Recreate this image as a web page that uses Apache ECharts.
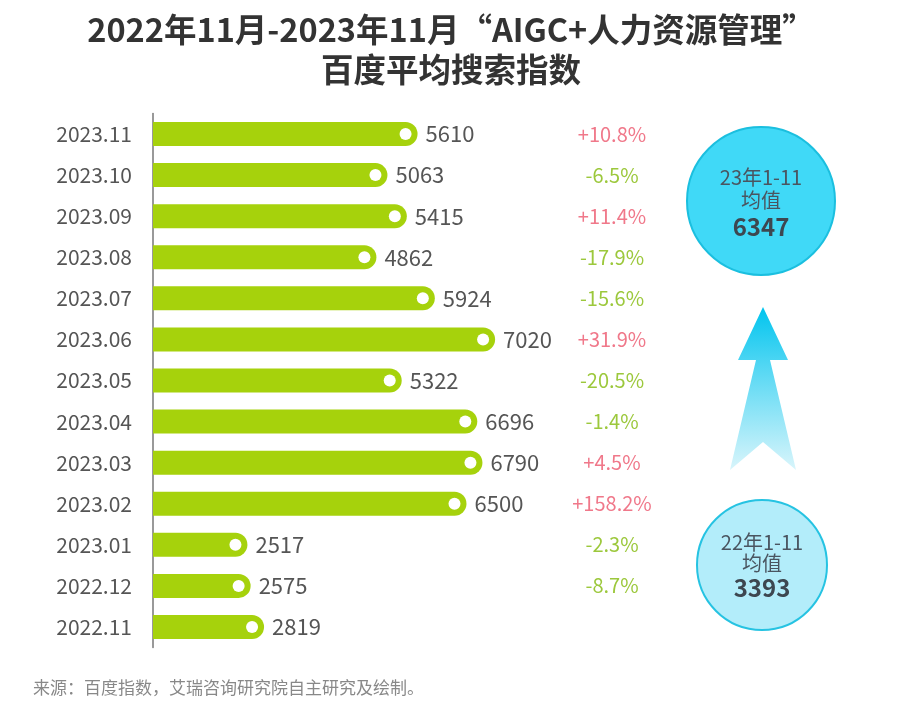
<!DOCTYPE html>
<html>
<head>
<meta charset="utf-8">
<script src="https://cdn.jsdelivr.net/npm/echarts@6/dist/echarts.min.js"></script>
<style>
html,body{margin:0;padding:0;background:#fff;}
#chart{width:902px;height:720px;}
</style>
</head>
<body>
<div id="chart"></div>
<script>
const categories = ['2023.11','2023.10','2023.09','2023.08','2023.07','2023.06','2023.05','2023.04','2023.03','2023.02','2023.01','2022.12','2022.11'];
const values = [5610,5063,5415,4862,5924,7020,5322,6696,6790,6500,2517,2575,2819];
const growth = ['+10.8%','-6.5%','+11.4%','-17.9%','-15.6%','+31.9%','-20.5%','-1.4%','+4.5%','+158.2%','-2.3%','-8.7%',''];
const avgLabels = ['23年1-11','22年1-11'];
const avgValues = [6347, 3393];
const titleText = '2022年11月-2023年11月“AIGC+人力资源管理”\n百度平均搜索指数';
const sourceText = '来源：百度指数，艾瑞咨询研究院自主研究及绘制。';

const FONT = 'Noto Sans CJK SC';
const chart = echarts.init(document.getElementById('chart'), null, {renderer:'canvas'});

const option = {
  backgroundColor: '#fff',
  animation: false,
  textStyle: {fontFamily: FONT},
  title: {
    text: titleText,
    left: 'center',
    top: 5,
    textStyle: {fontFamily: FONT, fontSize: 32.5, fontWeight: 'bold', color: '#333', lineHeight: 40}
  },
  grid: {left: 153, top: 113.5, width: 396, height: 534, containLabel: false},
  xAxis: {type: 'value', min: 800, max: 8000, show: false},
  yAxis: [
    {
      type: 'category', data: categories, inverse: true,
      axisLine: {show: true, lineStyle: {color: '#777', width: 1.5}},
      axisTick: {show: false},
      axisLabel: {fontSize: 21, color: '#555', margin: 21, fontFamily: FONT}
    },
    {
      type: 'category', data: categories, inverse: true, position: 'right',
      axisLine: {show: false}, axisTick: {show: false},
      axisLabel: {
        margin: 63, align: 'center',
        formatter: function (v, i) {
          const g = growth[i];
          if (!g) return '';
          return g.charAt(0) === '+' ? '{r|' + g + '}' : '{g|' + g + '}';
        },
        rich: {
          r: {fontSize: 20, color: '#f0788a', fontFamily: FONT},
          g: {fontSize: 20, color: '#9cc83c', fontFamily: FONT}
        }
      }
    }
  ],
  series: [
    {
      type: 'bar',
      data: values,
      barWidth: 24,
      itemStyle: {color: '#a6d20c', borderRadius: [0, 12, 12, 0]},
      label: {show: true, position: 'right', distance: 8, fontSize: 22, color: '#555', fontFamily: FONT}
    },
    {
      type: 'scatter',
      data: values.map((v, i) => [v, categories[i]]),
      symbol: 'circle',
      symbolSize: 12,
      symbolOffset: [-12, 0],
      itemStyle: {color: '#ffffff', opacity: 1},
      z: 5,
      silent: true
    }
  ],
  graphic: [
    {
      type: 'polygon',
      shape: {points: [[763,307],[788,360],[770,360],[796,470],[763,442],[730,470],[756,360],[738,360]]},
      style: {
        fill: new echarts.graphic.LinearGradient(0, 0, 0, 1, [
          {offset: 0, color: '#00c4ee'},
          {offset: 0.35, color: '#4fd6f3'},
          {offset: 1, color: '#d9f5fb'}
        ])
      }
    },
    {
      type: 'circle',
      shape: {cx: 761, cy: 201, r: 74},
      style: {fill: '#40d9f7', stroke: '#1bbfdf', lineWidth: 2}
    },
    {type: 'text', x: 761, y: 177, style: {text: avgLabels[0], fontSize: 20, fill: '#4a5560', align: 'center', verticalAlign: 'middle', fontFamily: FONT}},
    {type: 'text', x: 761, y: 200, style: {text: '均值', fontSize: 20, fill: '#4a5560', align: 'center', verticalAlign: 'middle', fontFamily: FONT}},
    {type: 'text', x: 761, y: 227, style: {text: String(avgValues[0]), fontSize: 24, fontWeight: 'bold', fill: '#3d4750', align: 'center', verticalAlign: 'middle', fontFamily: FONT}},
    {
      type: 'circle',
      shape: {cx: 762, cy: 565, r: 65},
      style: {fill: '#b3edfa', stroke: '#26c3e2', lineWidth: 2}
    },
    {type: 'text', x: 762, y: 542, style: {text: avgLabels[1], fontSize: 20, fill: '#4a5560', align: 'center', verticalAlign: 'middle', fontFamily: FONT}},
    {type: 'text', x: 762, y: 563, style: {text: '均值', fontSize: 20, fill: '#4a5560', align: 'center', verticalAlign: 'middle', fontFamily: FONT}},
    {type: 'text', x: 762, y: 588, style: {text: String(avgValues[1]), fontSize: 24, fontWeight: 'bold', fill: '#3d4750', align: 'center', verticalAlign: 'middle', fontFamily: FONT}},
    {type: 'text', x: 33, y: 688, style: {text: sourceText, fontSize: 17, fill: '#888', align: 'left', verticalAlign: 'middle', fontFamily: FONT}}
  ]
};
chart.setOption(option);
</script>
</body>
</html>
